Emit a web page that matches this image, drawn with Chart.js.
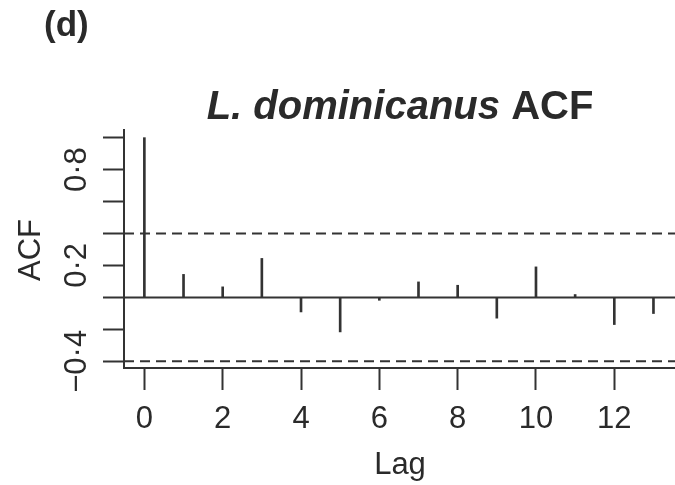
<!DOCTYPE html>
<html>
<head>
<meta charset="utf-8">
<script src="https://cdn.jsdelivr.net/npm/chart.js@4/dist/chart.umd.min.js"></script>
<style>
  html, body { margin: 0; padding: 0; background: #fff; }
  canvas { display: block; }
</style>
</head>
<body>
<canvas id="acfChart" width="675" height="485"></canvas>
<script>
// DATA

const lags = [0, 1, 2, 3, 4, 5, 6, 7, 8, 9, 10, 11, 12, 13];
const acfValues = [1.0, 0.144, 0.066, 0.244, -0.091, -0.216, -0.018, 0.097, 0.076, -0.130, 0.191, 0.018, -0.170, -0.101];
const ciBound = 0.4;

const xTickValues = [0, 2, 4, 6, 8, 10, 12];
const yTickValues = [-0.4, -0.2, 0, 0.2, 0.4, 0.6, 0.8, 1.0];
const yTickLabels = ["\u22120\u00b74", "", "", "0\u00b72", "", "", "0\u00b78", ""];

const xRange = [-0.52, 13.55];
const yRange = [-0.442, 1.048];

// STYLE

const INK = "#333333";
const TEXT = "#2a2a2a";
const FONT = '"Liberation Sans", Arial, sans-serif';

// TEXT PLUGIN: title, panel letter, axis titles, rotated y labels

const textPlugin = {
  id: "acfText",
  afterDraw(chart) {
    const ctx = chart.ctx;
    const yScale = chart.scales.y;
    ctx.save();
    ctx.fillStyle = TEXT;

    // panel letter
    ctx.font = "bold 35px " + FONT;
    ctx.textAlign = "left";
    ctx.textBaseline = "alphabetic";
    ctx.fillText("(d)", 44, 36);

    // title: italic species name + plain ACF
    const part1 = "L. dominicanus ";
    const part2 = "ACF";
    ctx.font = "italic bold 40px " + FONT;
    const w1 = ctx.measureText(part1).width;
    ctx.font = "bold 40px " + FONT;
    const w2 = ctx.measureText(part2).width;
    let tx = 400 - (w1 + w2) / 2;
    ctx.font = "italic bold 40px " + FONT;
    ctx.fillText(part1, tx, 119);
    ctx.font = "bold 40px " + FONT;
    ctx.fillText(part2, tx + w1, 119);

    // x axis title
    ctx.font = "31px " + FONT;
    ctx.textAlign = "center";
    ctx.fillText("Lag", 400, 474);

    // y axis title and tick labels, rotated
    ctx.textBaseline = "middle";
    ctx.save();
    ctx.translate(31, 250);
    ctx.rotate(-Math.PI / 2);
    ctx.fillText("ACF", 0, 0);
    ctx.restore();

    yTickValues.forEach((v, i) => {
      if (!yTickLabels[i]) return;
      const py = yScale.getPixelForValue(v);
      ctx.save();
      ctx.translate(77, py);
      ctx.rotate(-Math.PI / 2);
      ctx.fillText(yTickLabels[i], 0, 0);
      ctx.restore();
    });

    ctx.restore();
  }
};

// CHART

const ctx = document.getElementById("acfChart").getContext("2d");

new Chart(ctx, {
  data: {
    datasets: [
      {
        type: "bar",
        data: lags.map((l, i) => ({ x: l, y: acfValues[i] })),
        backgroundColor: INK,
        borderWidth: 0,
        barThickness: 2,
        order: 1
      },
      {
        type: "line",
        data: [{ x: xRange[0], y: 0 }, { x: xRange[1], y: 0 }],
        borderColor: INK,
        borderWidth: 2,
        pointRadius: 0,
        order: 0
      },
      {
        type: "line",
        data: [{ x: xRange[0], y: ciBound }, { x: xRange[1], y: ciBound }],
        borderColor: INK,
        borderWidth: 2,
        borderDash: [10, 6],
        pointRadius: 0,
        order: 0
      },
      {
        type: "line",
        data: [{ x: xRange[0], y: -ciBound }, { x: xRange[1], y: -ciBound }],
        borderColor: INK,
        borderWidth: 2,
        borderDash: [10, 6],
        pointRadius: 0,
        order: 0
      }
    ]
  },
  options: {
    responsive: false,
    animation: false,
    devicePixelRatio: 1,
    layout: { padding: { top: 130, left: 0, right: 0, bottom: 0 } },
    plugins: {
      legend: { display: false },
      title: { display: false },
      tooltip: { enabled: false }
    },
    scales: {
      x: {
        type: "linear",
        min: xRange[0],
        max: xRange[1],
        offset: false,
        afterBuildTicks: s => { s.ticks = xTickValues.map(v => ({ value: v })); },
        afterFit: s => { s.height = 485 - 368; },
        grid: {
          drawOnChartArea: false,
          drawTicks: true,
          tickLength: 22,
          tickWidth: 2,
          tickColor: INK,
          offset: false
        },
        border: { display: true, color: INK, width: 2 },
        ticks: {
          color: TEXT,
          font: { family: FONT, size: 31 },
          padding: 11,
          maxRotation: 0,
          callback: v => String(v)
        }
      },
      y: {
        type: "linear",
        min: yRange[0],
        max: yRange[1],
        afterBuildTicks: s => { s.ticks = yTickValues.map(v => ({ value: v })); },
        afterFit: s => { s.width = 124; },
        grid: {
          drawOnChartArea: false,
          drawTicks: true,
          tickLength: 21,
          tickWidth: 2,
          tickColor: INK
        },
        border: { display: true, color: INK, width: 2 },
        ticks: { display: false }
      }
    }
  },
  plugins: [textPlugin]
});
</script>
</body>
</html>
